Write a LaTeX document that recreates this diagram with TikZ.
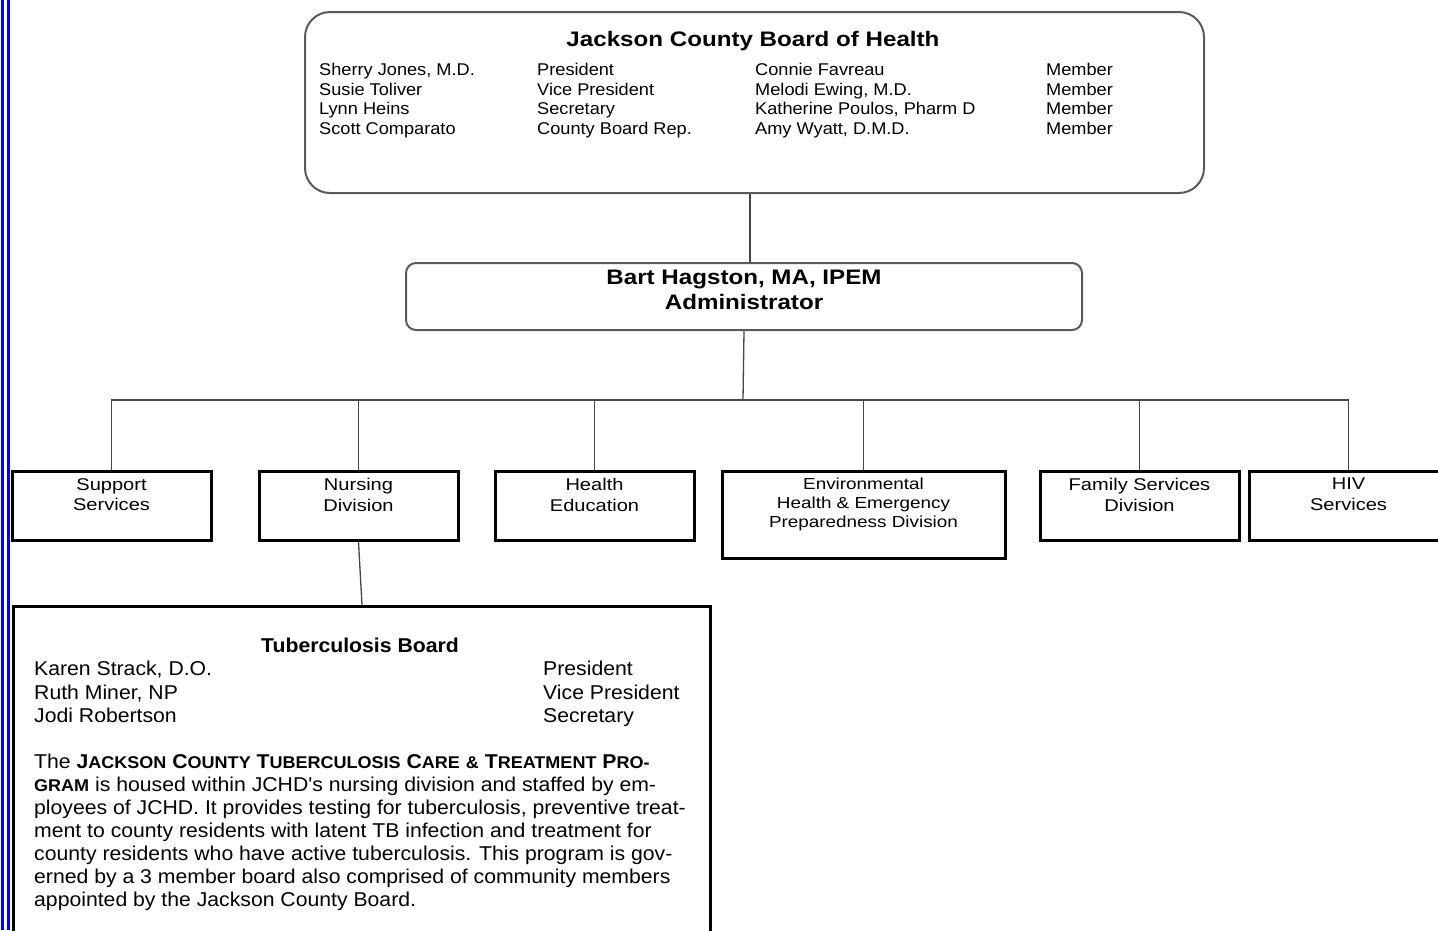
\documentclass[tikz,border=0pt]{standalone}
\usepackage{fontspec}
\setmainfont{Liberation Sans}
\newfontfamily\boardfont[FakeStretch=1.07]{Liberation Sans}
\newfontfamily\headfont[FakeStretch=1.15]{Liberation Sans}
\newfontfamily\divfont[FakeStretch=1.18]{Liberation Sans}
\newfontfamily\tbfont[FakeStretch=1.06]{Liberation Sans}
\usetikzlibrary{positioning}
\definecolor{framegray}{RGB}{90,90,90}
\definecolor{linegray}{RGB}{70,70,70}
\newcommand\tbsc[2]{#1{\fontsize{17}{23}\selectfont #2}}

\begin{document}
\begin{tikzpicture}[x=1pt,y=-1pt,
  roundbox/.style={draw=framegray,line width=2pt,anchor=north west,inner sep=0pt},
  divbox/.style={draw=black,line width=3pt,anchor=north,minimum width=199pt,minimum height=69pt,inner sep=0pt},
  divtext/.style={anchor=north,align=center,inner sep=0pt,font=\divfont\fontsize{17}{20.5}\selectfont},
  memcol/.style={anchor=north west,align=left,inner sep=0pt,font=\boardfont\fontsize{17}{19.7}\selectfont},
  conn/.style={draw=linegray,line width=1.3pt}]
\useasboundingbox (0,0) rectangle (1438,930);

\draw[blue,line width=2.7pt] (2.3,0) -- (2.3,930);
\draw[blue,line width=2.7pt] (8.2,0) -- (8.2,930);

% board of health
\node[roundbox,rounded corners=25pt,minimum width=899pt,minimum height=181pt] (board) at (304,11) {};
\node[anchor=base,inner sep=0pt,font=\headfont\bfseries\fontsize{21}{25}\selectfont] (boardtitle) at (753,46) {Jackson County Board of Health};
\node[memcol] (boardnames) at (319,63) {Sherry Jones, M.D.\\Susie Toliver\\Lynn Heins\\Scott Comparato};
\node[memcol] (boardroles) at (537,63) {President\\Vice President\\Secretary\\County Board Rep.};
\node[memcol] (members) at (755,63) {Connie Favreau\\Melodi Ewing, M.D.\\Katherine Poulos, Pharm D\\Amy Wyatt, D.M.D.};
\node[memcol] (memberroles) at (1046,63) {Member\\Member\\Member\\Member};

% administrator
\node[roundbox,rounded corners=10pt,minimum width=676pt,minimum height=67pt] (admin) at (405,262) {};
\node[anchor=north,align=center,inner sep=0pt,font=\headfont\bfseries\fontsize{21}{25}\selectfont] (admintext) at (744,270) {Bart Hagston, MA, IPEM\\Administrator};

\draw[conn] ([xshift=-4.5pt]board.south) -- ([xshift=6pt]admin.north);
\coordinate (bus) at (743,400);
\draw[conn] (admin.south) -- (bus);

% divisions
\node[divbox] (support) at (111.5,470) {};
\node[divtext] at ([yshift=-8pt]support.north) {Support\\Services};
\node[divbox] (nursing) at (358.5,470) {};
\node[divtext] at ([yshift=-8pt]nursing.north) {Nursing\\Division};
\node[divbox] (health) at (594.5,470) {};
\node[divtext] at ([yshift=-8pt]health.north) {Health\\Education};
\node[divbox,minimum width=283pt,minimum height=87pt] (envhealth) at (863.5,470) {};
\node[divtext,font=\divfont\fontsize{16}{19}\selectfont] at ([yshift=-8pt]envhealth.north) {Environmental\\Health \& Emergency\\Preparedness Division};
\node[divbox] (family) at (1139.5,470) {};
\node[divtext] at ([yshift=-8pt]family.north) {Family Services\\Division};
\node[divbox] (hiv) at (1348.5,470) {};
\node[divtext] at ([yshift=-8pt]hiv.north) {HIV\\Services};

\foreach \d in {support,nursing,health,envhealth,family,hiv}
  \draw[conn] (\d.north) |- (bus);

% tuberculosis board
\node[draw=black,line width=3pt,anchor=north west,minimum width=697pt,minimum height=400pt,inner sep=0pt] (tbboard) at (12,605) {};
\draw[conn] (nursing.south) -- (tbboard.north);
\node[anchor=base,inner sep=0pt,font=\tbfont\bfseries\fontsize{20}{23}\selectfont] (tbtitle) at (360,652) {Tuberculosis Board};
\node[memcol,font=\tbfont\fontsize{20}{23.5}\selectfont] (tbnames) at (34,661) {Karen Strack, D.O.\\Ruth Miner, NP\\Jodi Robertson};
\node[memcol,font=\tbfont\fontsize{20}{23.5}\selectfont] (tbroles) at (543,661) {President\\Vice President\\Secretary};
\node[memcol,font=\tbfont\fontsize{20}{23}\selectfont] (tbprogram) at (34,754) {The {\bfseries\tbsc{J}{ACKSON} \tbsc{C}{OUNTY} \tbsc{T}{UBERCULOSIS} \tbsc{C}{ARE} {\fontsize{17}{23}\selectfont\&} \tbsc{T}{REATMENT} \tbsc{P}{RO-}}\\
{\bfseries\fontsize{17}{23}\selectfont GRAM} is housed within JCHD's nursing division and staffed by em-\\
ployees of JCHD. It provides testing for tuberculosis, preventive treat-\\
ment to county residents with latent TB infection and treatment for\\
county residents who have active tuberculosis. This program is gov-\\
erned by a 3 member board also comprised of community members\\
appointed by the Jackson County Board.};
\end{tikzpicture}
\end{document}
